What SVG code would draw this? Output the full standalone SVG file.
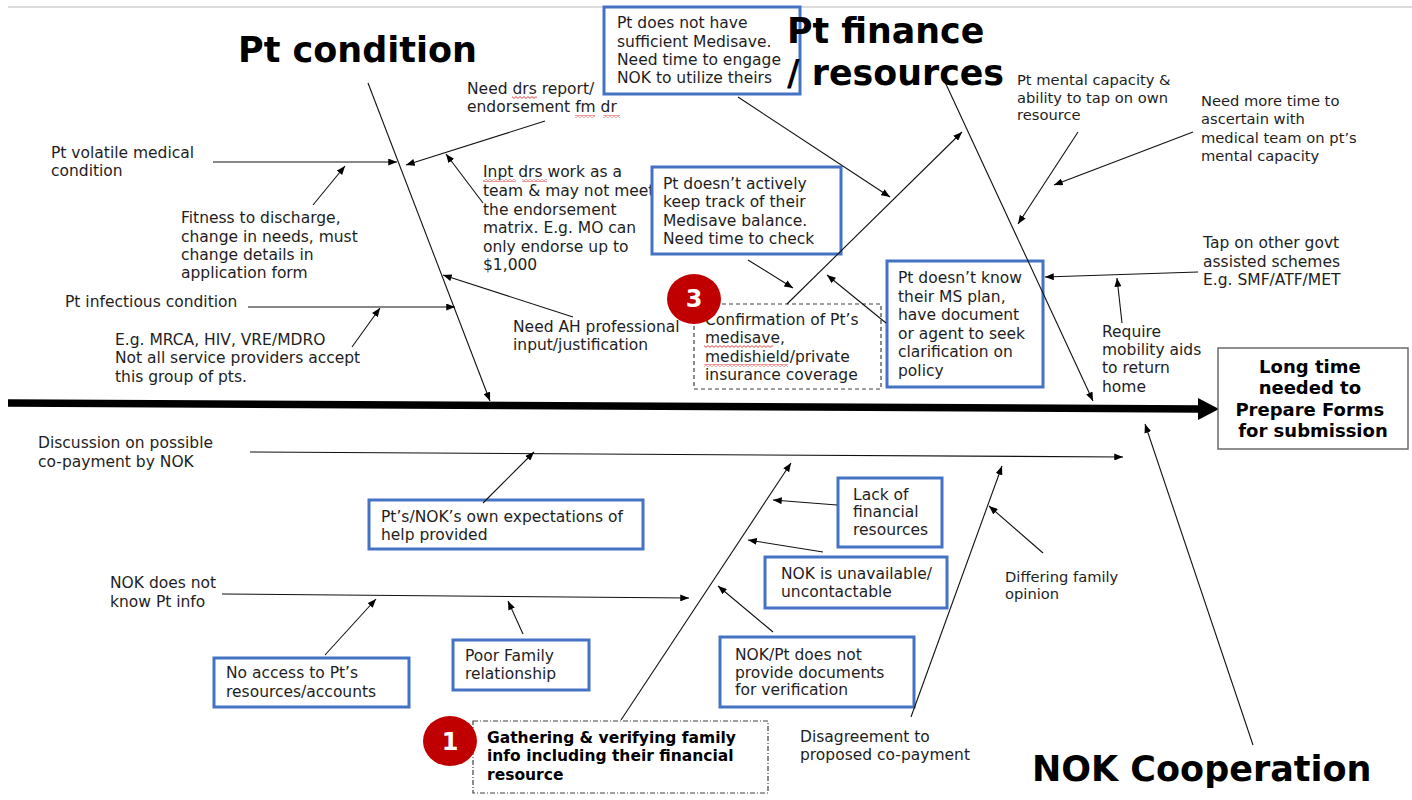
<svg xmlns="http://www.w3.org/2000/svg" width="1412" height="800" viewBox="0 0 1412 800">
  <style>
    .t { font-family: "DejaVu Sans", Verdana, sans-serif; font-size: 15.5px; fill: #1e1e1e; }
    .ts { font-size: 14.7px; }
    .tb { font-family: "DejaVu Sans", Verdana, sans-serif; font-weight: bold; fill: #000; }
    .title { font-family: "DejaVu Sans", Verdana, sans-serif; font-weight: bold; fill: #000; }
    .blue { fill: #fff; stroke: #4472C4; stroke-width: 3; }
    .dash { fill: #fff; stroke: #404040; stroke-width: 1.2; stroke-dasharray: 4 3; }
    .dashdot { fill: #fff; stroke: #404040; stroke-width: 1.2; stroke-dasharray: 5 2 1 2; }
    .effect { fill: #fff; stroke: #6b6b6b; stroke-width: 1.5; }
    .badge { fill: #C00000; }
    .badge-t { font-family: "DejaVu Sans", Verdana, sans-serif; font-weight: bold; font-size: 24px; fill: #fff; text-anchor: middle; }
    .c line { stroke: #111; stroke-width: 1.1; marker-end: url(#ah); }
    .sq { fill: url(#squig); }
  </style>
  <defs>
    <marker id="ah" viewBox="0 0 10 8" refX="10" refY="4" markerWidth="9" markerHeight="7" markerUnits="userSpaceOnUse" orient="auto">
      <path d="M0,0 L10,4 L0,8 z" fill="#000"/>
    </marker>
    <pattern id="squig" width="4" height="3" patternUnits="userSpaceOnUse">
      <path d="M0,0.6 L2,2.4 L4,0.6" fill="none" stroke="#e03030" stroke-width="0.9"/>
    </pattern>
  </defs>

  <rect width="1412" height="800" fill="#fff"/>
  <!-- page rule along the top -->
  <line x1="8" y1="7" x2="1412" y2="7" stroke="#d0d0d0" stroke-width="1.5"/>

  <!-- spine -->
  <g id="spine">
    <line x1="8" y1="403" x2="1200" y2="409" stroke="#000" stroke-width="7.5"/>
    <polygon points="1198,398 1219,409 1198,420" fill="#000"/>
  </g>

  <!-- effect -->
  <g id="effect">
    <rect class="effect" x="1218" y="348" width="190" height="101"/>
    <text class="tb" font-size="18" text-anchor="middle">
      <tspan x="1313" y="373">Long time</tspan>
      <tspan x="1313" y="394">needed to</tspan>
      <tspan x="1313" y="416">Prepare Forms</tspan>
      <tspan x="1313" y="437">for submission</tspan>
    </text>
  </g>

  <!-- Pt condition branch -->
  <g id="pt-volatile">
    <text class="t"><tspan x="51" y="158">Pt volatile medical</tspan><tspan x="51" y="176">condition</tspan></text>
  </g>
  <g id="fitness">
    <text class="t"><tspan x="181" y="223">Fitness to discharge,</tspan><tspan x="181" y="242">change in needs, must</tspan><tspan x="181" y="260">change details in</tspan><tspan x="181" y="278">application form</tspan></text>
  </g>
  <g id="pt-infectious">
    <text class="t" x="65" y="307">Pt infectious condition</text>
  </g>
  <g id="eg-mrca">
    <text class="t"><tspan x="115" y="345">E.g. MRCA, HIV, VRE/MDRO</tspan><tspan x="115" y="363">Not all service providers accept</tspan><tspan x="115" y="382">this group of pts.</tspan></text>
  </g>
  <g id="need-drs">
    <text class="t"><tspan x="467" y="94">Need drs report/</tspan><tspan x="467" y="112">endorsement fm dr</tspan></text>
    <rect class="sq" x="512" y="96" width="25" height="3"/>
    <rect class="sq" x="575" y="115" width="20" height="3"/>
    <rect class="sq" x="603" y="115" width="17" height="3"/>
  </g>
  <g id="inpt-drs">
    <text class="t"><tspan x="483" y="177">Inpt drs work as a</tspan><tspan x="483" y="196">team &amp; may not meet</tspan><tspan x="483" y="215">the endorsement</tspan><tspan x="483" y="233">matrix. E.g. MO can</tspan><tspan x="483" y="252">only endorse up to</tspan><tspan x="483" y="270">$1,000</tspan></text>
    <rect class="sq" x="483" y="179" width="33" height="3"/>
    <rect class="sq" x="522" y="179" width="25" height="3"/>
  </g>
  <g id="need-ah">
    <text class="t"><tspan x="513" y="332">Need AH professional</tspan><tspan x="513" y="350">input/justification</tspan></text>
  </g>

  <!-- Pt finance / resources branch -->
  <g id="insufficient-medisave">
    <rect class="blue" x="604" y="7" width="196" height="87"/>
    <text class="t"><tspan x="617" y="28">Pt does not have</tspan><tspan x="617" y="47">sufficient Medisave.</tspan><tspan x="617" y="65">Need time to engage</tspan><tspan x="617" y="83">NOK to utilize theirs</tspan></text>
  </g>
  <g id="balance">
    <rect class="blue" x="652" y="167" width="189" height="87"/>
    <text class="t"><tspan x="663" y="189">Pt doesn’t actively</tspan><tspan x="663" y="207">keep track of their</tspan><tspan x="663" y="226">Medisave balance.</tspan><tspan x="663" y="244">Need time to check</tspan></text>
  </g>
  <g id="confirmation">
    <rect class="dash" x="694" y="304" width="187" height="85"/>
    <text class="t"><tspan x="705" y="325">Confirmation of Pt’s</tspan><tspan x="705" y="343">medisave,</tspan><tspan x="705" y="362">medishield/private</tspan><tspan x="705" y="380">insurance coverage</tspan></text>
    <rect class="sq" x="704" y="345" width="69" height="3"/>
    <rect class="sq" x="704" y="364" width="84" height="3"/>
  </g>
  <g id="ms-plan">
    <rect class="blue" x="887" y="261" width="156" height="126"/>
    <text class="t"><tspan x="898" y="283">Pt doesn’t know</tspan><tspan x="898" y="302">their MS plan,</tspan><tspan x="898" y="320">have document</tspan><tspan x="898" y="339">or agent to seek</tspan><tspan x="898" y="357">clarification on</tspan><tspan x="898" y="376">policy</tspan></text>
  </g>
  <g id="mental-capacity">
    <text class="t ts"><tspan x="1017" y="85">Pt mental capacity &amp;</tspan><tspan x="1017" y="103">ability to tap on own</tspan><tspan x="1017" y="120">resource</tspan></text>
  </g>
  <g id="more-time">
    <text class="t ts"><tspan x="1201" y="106">Need more time to</tspan><tspan x="1201" y="124">ascertain with</tspan><tspan x="1201" y="143">medical team on pt’s</tspan><tspan x="1201" y="161">mental capacity</tspan></text>
  </g>
  <g id="govt-schemes">
    <text class="t"><tspan x="1203" y="248">Tap on other govt</tspan><tspan x="1203" y="267">assisted schemes</tspan><tspan x="1203" y="285">E.g. SMF/ATF/MET</tspan></text>
  </g>
  <g id="mobility-aids">
    <text class="t"><tspan x="1102" y="337">Require</tspan><tspan x="1102" y="355">mobility aids</tspan><tspan x="1102" y="373">to return</tspan><tspan x="1102" y="392">home</tspan></text>
  </g>

  <!-- NOK cooperation branch -->
  <g id="co-payment">
    <text class="t"><tspan x="38" y="448">Discussion on possible</tspan><tspan x="38" y="467">co-payment by NOK</tspan></text>
  </g>
  <g id="expectations">
    <rect class="blue" x="369" y="500" width="274" height="49"/>
    <text class="t"><tspan x="381" y="522">Pt’s/NOK’s own expectations of</tspan><tspan x="381" y="540">help provided</tspan></text>
  </g>
  <g id="nok-info">
    <text class="t"><tspan x="110" y="588">NOK does not</tspan><tspan x="110" y="607">know Pt info</tspan></text>
  </g>
  <g id="no-access">
    <rect class="blue" x="214" y="658" width="195" height="49"/>
    <text class="t"><tspan x="226" y="678">No access to Pt’s</tspan><tspan x="226" y="697">resources/accounts</tspan></text>
  </g>
  <g id="poor-family">
    <rect class="blue" x="453" y="640" width="136" height="50"/>
    <text class="t"><tspan x="465" y="661">Poor Family</tspan><tspan x="465" y="679">relationship</tspan></text>
  </g>
  <g id="no-documents">
    <rect class="blue" x="720" y="637" width="194" height="70"/>
    <text class="t"><tspan x="735" y="660">NOK/Pt does not</tspan><tspan x="735" y="678">provide documents</tspan><tspan x="735" y="695">for verification</tspan></text>
  </g>
  <g id="gathering">
    <rect class="dashdot" x="473" y="721" width="295" height="72"/>
    <text class="tb" font-size="15.5"><tspan x="487" y="743">Gathering &amp; verifying family</tspan><tspan x="487" y="761">info including their financial</tspan><tspan x="487" y="780">resource</tspan></text>
  </g>
  <g id="lack-financial">
    <rect class="blue" x="838" y="478" width="104" height="69"/>
    <text class="t"><tspan x="853" y="500">Lack of</tspan><tspan x="853" y="517">financial</tspan><tspan x="853" y="535">resources</tspan></text>
  </g>
  <g id="nok-unavailable">
    <rect class="blue" x="765" y="557" width="182" height="51"/>
    <text class="t"><tspan x="781" y="579">NOK is unavailable/</tspan><tspan x="781" y="597">uncontactable</tspan></text>
  </g>
  <g id="differing-opinion">
    <text class="t ts"><tspan x="1005" y="582">Differing family</tspan><tspan x="1005" y="599">opinion</tspan></text>
  </g>
  <g id="disagreement">
    <text class="t"><tspan x="800" y="742">Disagreement to</tspan><tspan x="800" y="760">proposed co-payment</tspan></text>
  </g>

  <!-- connectors -->
  <g id="connectors" class="c">
    <line x1="368" y1="83" x2="490" y2="401"/>
    <line x1="213" y1="162" x2="397" y2="162"/>
    <line x1="313" y1="205" x2="345" y2="166"/>
    <line x1="248" y1="307" x2="455" y2="307"/>
    <line x1="352" y1="347" x2="380" y2="308"/>
    <line x1="545" y1="121" x2="406" y2="165"/>
    <line x1="483" y1="203" x2="446" y2="154"/>
    <line x1="573" y1="317" x2="443" y2="275"/>

    <line x1="738" y1="97" x2="890" y2="197"/>
    <line x1="787" y1="304" x2="962" y2="132"/>
    <line x1="748" y1="260" x2="793" y2="288"/>
    <line x1="886" y1="323" x2="827" y2="275"/>
    <line x1="945" y1="82" x2="1093" y2="401"/>
    <line x1="1078" y1="132" x2="1018" y2="224"/>
    <line x1="1193" y1="132" x2="1054" y2="185"/>
    <line x1="1198" y1="272" x2="1045" y2="277"/>
    <line x1="1122" y1="323" x2="1117" y2="278"/>

    <line x1="250" y1="452" x2="1123" y2="457"/>
    <line x1="483" y1="503" x2="534" y2="452"/>
    <line x1="222" y1="594" x2="689" y2="598"/>
    <line x1="325" y1="655" x2="376" y2="599"/>
    <line x1="523" y1="634" x2="508" y2="601"/>
    <line x1="773" y1="632" x2="718" y2="586"/>
    <line x1="621" y1="720" x2="791" y2="463"/>
    <line x1="837" y1="505" x2="773" y2="500"/>
    <line x1="823" y1="552" x2="748" y2="540"/>
    <line x1="1043" y1="553" x2="989" y2="506"/>
    <line x1="911" y1="717" x2="1002" y2="466"/>
    <line x1="1253" y1="745" x2="1145" y2="424"/>
  </g>

  <!-- category headings -->
  <g id="cat-condition">
    <text class="title" font-size="35" x="238" y="62">Pt condition</text>
  </g>
  <g id="cat-finance">
    <text class="title" font-size="34.8"><tspan x="787" y="43">Pt finance</tspan><tspan x="787" y="85">/ resources</tspan></text>
  </g>
  <g id="cat-nok">
    <text class="title" font-size="35" x="1032" y="781">NOK Cooperation</text>
  </g>

  <!-- numbered badges -->
  <g id="badge-3">
    <ellipse class="badge" cx="694" cy="299" rx="27" ry="25"/>
    <text class="badge-t" x="694" y="307">3</text>
  </g>
  <g id="badge-1">
    <ellipse class="badge" cx="450" cy="741" rx="27" ry="25"/>
    <text class="badge-t" x="450" y="750">1</text>
  </g>
</svg>
